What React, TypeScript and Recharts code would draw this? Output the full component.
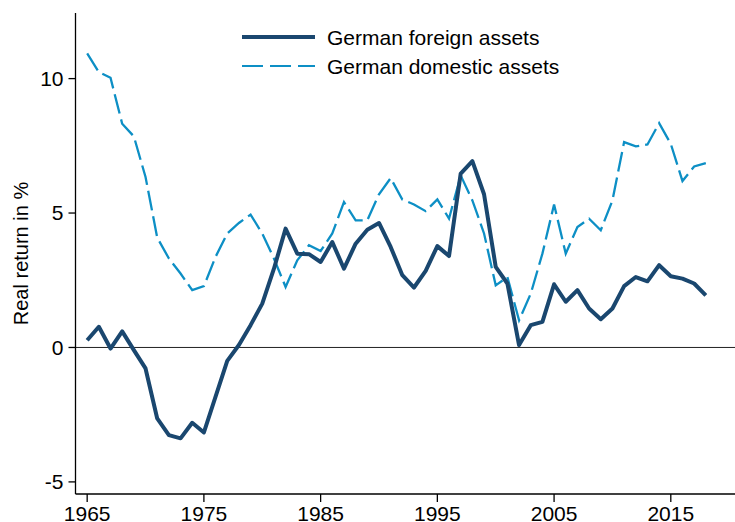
import React from 'react';
import { LineChart, Line, XAxis, YAxis, ReferenceLine } from 'recharts';

const years = [
  1965, 1966, 1967, 1968, 1969, 1970, 1971, 1972, 1973, 1974,
  1975, 1976, 1977, 1978, 1979, 1980, 1981, 1982, 1983, 1984,
  1985, 1986, 1987, 1988, 1989, 1990, 1991, 1992, 1993, 1994,
  1995, 1996, 1997, 1998, 1999, 2000, 2001, 2002, 2003, 2004,
  2005, 2006, 2007, 2008, 2009, 2010, 2011, 2012, 2013, 2014,
  2015, 2016, 2017, 2018,
];

const foreign = [
  0.27, 0.77, -0.04, 0.6, -0.1, -0.78, -2.64, -3.26, -3.38, -2.8,
  -3.16, -1.83, -0.5, 0.09, 0.83, 1.63, 2.93, 4.42, 3.49, 3.47,
  3.18, 3.92, 2.93, 3.86, 4.38, 4.63, 3.74, 2.69, 2.23, 2.85,
  3.77, 3.4, 6.47, 6.93, 5.7, 3.0, 2.38, 0.09, 0.83, 0.95,
  2.35, 1.7, 2.13, 1.45, 1.05, 1.45, 2.28, 2.62, 2.46, 3.06,
  2.65, 2.56, 2.38, 1.94,
];

const domestic = [
  10.94, 10.24, 10.03, 8.32, 7.85, 6.34, 4.09, 3.31, 2.75, 2.13,
  2.28, 3.37, 4.24, 4.63, 4.94, 4.24, 3.31, 2.25, 3.24, 3.8,
  3.59, 4.24, 5.41, 4.73, 4.73, 5.7, 6.3, 5.5, 5.32, 5.07,
  5.51, 4.79, 6.4, 5.47, 4.24, 2.31, 2.62, 1.01, 2.0, 3.49,
  5.32, 3.49, 4.48, 4.79, 4.36, 5.47, 7.64, 7.48, 7.55, 8.34,
  7.57, 6.19, 6.73, 6.86,
];

const xTicks = [1965, 1975, 1985, 1995, 2005, 2015];
const yTicks = [-5, 0, 5, 10];

const NAVY = '#1a476f';
const BLUE = '#0d8fc5';
const FONT = '"Liberation Sans", Arial, Helvetica, sans-serif';

const data = years.map((year, i) => ({
  year,
  foreign: foreign[i],
  domestic: domestic[i],
}));

// legend drawn on top of the chart so it takes no layout space
function LegendBox() {
  return (
    <svg
      width={360}
      height={60}
      style={{ position: 'absolute', left: 242, top: 22, fontFamily: FONT }}
    >
      <line x1={0} y1={15} x2={73} y2={15} stroke={NAVY} strokeWidth={4} />
      <text x={85} y={15} fontSize={21} dominantBaseline="central" fill="#000">
        German foreign assets
      </text>
      <line x1={0} y1={44} x2={73} y2={44} stroke={BLUE} strokeWidth={2.2} strokeDasharray="21 7" />
      <text x={85} y={44} fontSize={21} dominantBaseline="central" fill="#000">
        German domestic assets
      </text>
    </svg>
  );
}

export default function App() {
  return (
    <div style={{ position: 'absolute', left: 0, top: 0, width: 735, height: 522, background: '#fff' }}>
      <LineChart
        width={735}
        height={522}
        data={data}
        margin={{ top: 13, right: 0, bottom: 0, left: 0 }}
        style={{ fontFamily: FONT }}
      >
        <XAxis
          dataKey="year"
          type="number"
          domain={[1964, 2020.5]}
          ticks={xTicks}
          allowDataOverflow
          height={28}
          tickSize={8}
          tickMargin={4}
          stroke="#000"
          strokeWidth={1.3}
          tick={{ fill: '#000', fontSize: 21 }}
        />
        <YAxis
          type="number"
          domain={[-5.45, 12.44]}
          ticks={yTicks}
          allowDataOverflow
          width={75.5}
          tickSize={7}
          tickMargin={5}
          stroke="#000"
          strokeWidth={1.3}
          tick={{ fill: '#000', fontSize: 21 }}
          label={{
            value: 'Real return in %',
            angle: -90,
            position: 'insideLeft',
            offset: 21,
            fill: '#000',
            fontSize: 20,
            style: { textAnchor: 'middle' },
          }}
        />
        <ReferenceLine y={0} stroke="#222" strokeWidth={1} />
        <Line
          type="linear"
          dataKey="domestic"
          stroke={BLUE}
          strokeWidth={2.3}
          strokeDasharray="20 6"
          dot={false}
          isAnimationActive={false}
        />
        <Line
          type="linear"
          dataKey="foreign"
          stroke={NAVY}
          strokeWidth={4}
          strokeLinejoin="round"
          dot={false}
          isAnimationActive={false}
        />
      </LineChart>
      <LegendBox />
    </div>
  );
}
